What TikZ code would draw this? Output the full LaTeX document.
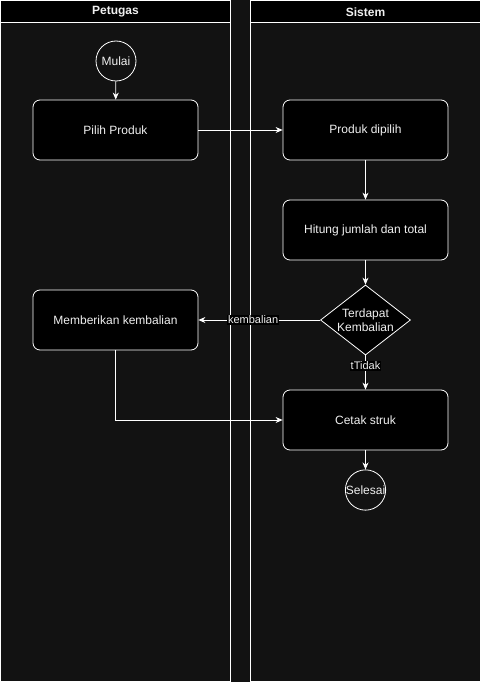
\documentclass[tikz,border=0pt]{standalone}
\usepackage{fontspec}
\setmainfont{Liberation Sans}
\usetikzlibrary{shapes.geometric,arrows.meta}
\definecolor{bg}{HTML}{121212}
\definecolor{txt}{HTML}{F0F0F0}
\begin{document}
\begin{tikzpicture}[x=1pt,y=-1pt,
  every node/.style={font=\fontsize{12}{14}\selectfont, text=txt},
  lane/.style={draw=white, line width=1pt},
  stepbox/.style={draw=white, fill=black, rounded corners=7pt, line width=0.8pt, minimum width=165pt, minimum height=60pt, inner sep=0pt},
  term/.style={draw=white, fill=bg, circle, line width=0.8pt, minimum size=40pt, inner sep=0pt},
  decide/.style={draw=white, fill=black, diamond, line width=0.8pt, minimum width=90pt, minimum height=70pt, inner sep=0pt, aspect=1.3, align=center},
  flow/.style={draw=white, line width=0.8pt, -{Stealth[length=7pt,width=6pt]}},
  lbl/.style={fill=black, inner sep=1pt, font=\fontsize{11}{13}\selectfont}
]
\useasboundingbox (0,0) rectangle (481,682);
\fill[bg] (0,0) rectangle (481,682);
% lanes
\fill[black] (0.5,0.5) rectangle (230.5,23);
\fill[black] (250.5,0.5) rectangle (480.5,23);
\draw[lane] (0.5,0.5) rectangle (230.5,681);
\draw[lane] (0.5,23) -- (230.5,23);
\draw[lane] (250.5,0.5) rectangle (480.5,681);
\draw[lane] (250.5,23) -- (480.5,23);
\node[font=\bfseries\fontsize{12}{14}\selectfont] (h1) at (115.5,12) {Petugas};
\node[font=\bfseries\fontsize{12}{14}\selectfont] (h2) at (365.5,12) {Sistem};
% nodes
\node[term] (mulai) at (116,61) {Mulai};
\node[stepbox] (pilih) at (115.5,130) {Pilih Produk};
\node[stepbox] (dipilih) at (365.5,130) {Produk dipilih};
\node[stepbox] (hitung) at (365.5,230) {Hitung jumlah dan total};
\node[decide, minimum width=90pt, minimum height=70pt] (dec) at (365.5,320) {};
\node[align=center, font=\fontsize{12}{14}\selectfont] (dect) at (365.5,320) {Terdapat\\Kembalian};
\node[stepbox] (beri) at (115.5,320) {Memberikan kembalian};
\node[stepbox] (cetak) at (365.5,420) {Cetak struk};
\node[term] (selesai) at (365.5,490) {Selesai};
\coordinate (corner) at (115.5,420);
% connectors
\draw[flow] (mulai) -- (pilih);
\draw[flow] (pilih) -- (dipilih);
\draw[flow] (dipilih) -- (hitung);
\draw[flow] (hitung) -- (dec.north);
\draw[flow] (dec.west) -- node[lbl, pos=0.55] {kembalian} (beri.east);
\draw[flow] (dec.south) -- node[lbl, pos=0.3] {tTidak} (cetak.north);
\draw[flow] (beri.south) -- (corner) -- (cetak.west);
\draw[flow] (cetak) -- (selesai);
\end{tikzpicture}
\end{document}
